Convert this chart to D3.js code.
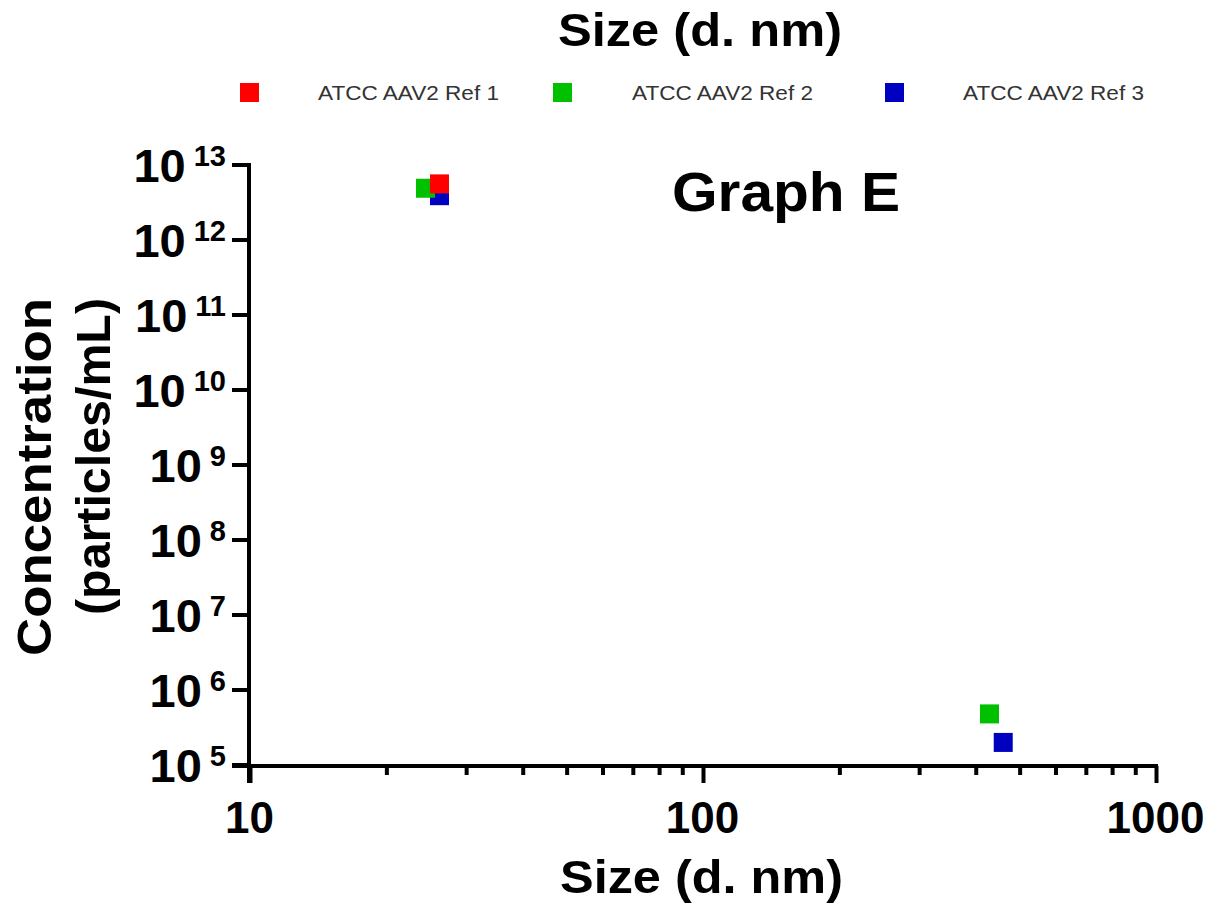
<!DOCTYPE html>
<html>
<head>
<meta charset="utf-8">
<script src="https://cdn.jsdelivr.net/npm/d3@7"></script>
<style>
  body { margin: 0; background: #fff; }
  text { font-family: "Liberation Sans", Arial, sans-serif; }
</style>
</head>
<body>
<div id="chart"></div>
<script>
var width = 1213
var height = 910

// data
var seriesNames = ["ATCC AAV2 Ref 1", "ATCC AAV2 Ref 2", "ATCC AAV2 Ref 3"]
var seriesColors = ["#ff0000", "#00c000", "#0000c0"]
var ref1 = [{size: 26.2, conc: 5.6e12}]
var ref2 = [{size: 24.4, conc: 4.9e12}, {size: 429, conc: 4.8e5}]
var ref3 = [{size: 26.2, conc: 3.9e12}, {size: 460, conc: 2.0e5}]
var xMajor = [10, 100, 1000]
var xMinor = [20, 30, 40, 50, 60, 70, 80, 90, 200, 300, 400, 500, 600, 700, 800, 900]
var yExponents = [5, 6, 7, 8, 9, 10, 11, 12, 13]

var svg = d3.select("#chart")
    .append("svg")
    .attr("width", width)
    .attr("height", height)

svg.append("rect").attr("width", width).attr("height", height).attr("fill", "#fff")

var x = d3.scaleLog().domain([10, 1000]).range([250, 1156])
var y = d3.scaleLog().domain([1e5, 1e13]).range([765, 165])

var axisY = y(1e5) + 1
var axisX = x(10) - 1

// x axis
var xMinorAxis = d3.axisBottom(x).tickValues(xMinor).tickSize(9).tickFormat("")
var xMajorAxis = d3.axisBottom(x).tickValues(xMajor).tickSize(17).tickPadding(20).tickFormat(d3.format("d"))

var gxMinor = svg.append("g").attr("transform", "translate(0," + axisY + ")").call(xMinorAxis)
var gx = svg.append("g").attr("transform", "translate(0," + axisY + ")").call(xMajorAxis)
gxMinor.select(".domain").remove()
gx.select(".domain").remove()
svg.selectAll(".tick line").attr("stroke", "#000").attr("stroke-width", 4)
gx.selectAll(".tick text")
    .attr("font-size", 44)
    .attr("font-weight", "bold")
    .attr("fill", "#000")
    .attr("dy", null)
    .attr("x", -1)
    .attr("y", 67)

svg.append("line")
    .attr("x1", axisX - 17).attr("x2", x(1000) + 2)
    .attr("y1", axisY).attr("y2", axisY)
    .attr("stroke", "#000").attr("stroke-width", 4)

// y axis
svg.append("line")
    .attr("x1", axisX).attr("x2", axisX)
    .attr("y1", y(1e13) - 2).attr("y2", axisY + 17)
    .attr("stroke", "#000").attr("stroke-width", 4)

var gy = svg.append("g")
gy.selectAll("line.ytick")
    .data(yExponents)
    .enter()
    .append("line")
    .attr("class", "ytick")
    .attr("x1", axisX - 17).attr("x2", axisX)
    .attr("y1", d => y(Math.pow(10, d))).attr("y2", d => y(Math.pow(10, d)))
    .attr("stroke", "#000").attr("stroke-width", 4)

var ylab = gy.selectAll("text.ylab")
    .data(yExponents)
    .enter()
    .append("text")
    .attr("class", "ylab")
    .attr("x", 226)
    .attr("y", d => y(Math.pow(10, d)) + 17)
    .attr("text-anchor", "end")
    .attr("font-weight", "bold")
    .attr("fill", "#000")
ylab.append("tspan").attr("font-size", 47).text("10")
ylab.append("tspan").attr("font-size", 29).attr("dx", 8).attr("dy", -16).text(d => d)

// points (blue, green, red so red sits on top)
var allSeries = [ref1, ref2, ref3]
var size = 19
;[2, 1, 0].forEach(function(i){
    svg.append("g")
        .selectAll("rect")
        .data(allSeries[i])
        .enter()
        .append("rect")
        .attr("x", d => x(d.size) - size / 2)
        .attr("y", d => y(d.conc) - size / 2)
        .attr("width", size)
        .attr("height", size)
        .attr("fill", seriesColors[i])
})

// titles
svg.append("text")
    .attr("x", 558).attr("y", 46)
    .attr("font-size", 47).attr("font-weight", "bold")
    .attr("textLength", 284).attr("lengthAdjust", "spacingAndGlyphs")
    .text("Size (d. nm)")

svg.append("text")
    .attr("x", 560).attr("y", 893)
    .attr("font-size", 47).attr("font-weight", "bold")
    .attr("textLength", 283).attr("lengthAdjust", "spacingAndGlyphs")
    .text("Size (d. nm)")

svg.append("text")
    .attr("x", 672).attr("y", 211)
    .attr("font-size", 56).attr("font-weight", "bold")
    .attr("textLength", 228).attr("lengthAdjust", "spacingAndGlyphs")
    .text("Graph E")

svg.append("text")
    .attr("transform", "translate(51,298) rotate(-90)")
    .attr("text-anchor", "end")
    .attr("font-size", 49).attr("font-weight", "bold")
    .attr("textLength", 358).attr("lengthAdjust", "spacingAndGlyphs")
    .text("Concentration")

svg.append("text")
    .attr("transform", "translate(110,298) rotate(-90)")
    .attr("text-anchor", "end")
    .attr("font-size", 48).attr("font-weight", "bold")
    .attr("textLength", 317).attr("lengthAdjust", "spacingAndGlyphs")
    .text("(particles/mL)")

// legend
var legendSquareX = [250, 563, 895]
var legendTextX = [318, 632, 963]
var legend = svg.append("g")
seriesNames.forEach(function(name, i){
    legend.append("rect")
        .attr("x", legendSquareX[i] - 10).attr("y", 83)
        .attr("width", 19).attr("height", 19)
        .attr("fill", seriesColors[i])
    legend.append("text")
        .attr("x", legendTextX[i]).attr("y", 100)
        .attr("font-size", 21)
        .attr("fill", "#333")
        .attr("textLength", 181).attr("lengthAdjust", "spacingAndGlyphs")
        .text(name)
})
</script>
</body>
</html>
